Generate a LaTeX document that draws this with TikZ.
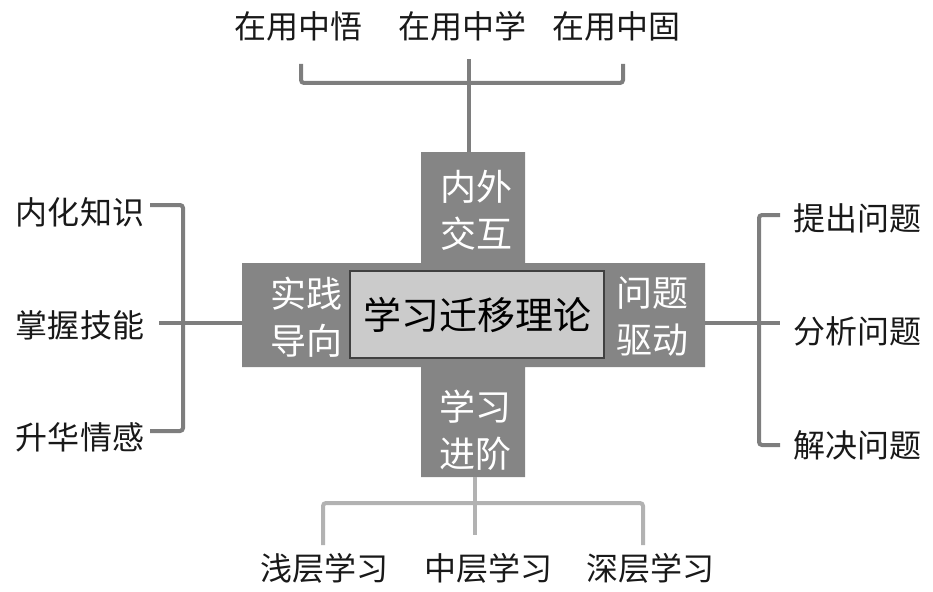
\documentclass[tikz,border=0pt]{standalone}
\usepackage{fontspec}
\setmainfont{Noto Sans CJK SC}
\newfontfamily\cjk{Noto Sans CJK SC}
\definecolor{crossgray}{HTML}{858585}
\definecolor{centergray}{HTML}{CBCBCB}
\definecolor{linegray}{HTML}{7E7E7E}
\definecolor{lightline}{HTML}{B2B2B2}
\begin{document}
\begin{tikzpicture}[x=1pt,y=-1pt,
  outer/.style={inner sep=0pt,font=\cjk\fontsize{32}{34}\selectfont,text=black!90},
  arm/.style={inner sep=0pt,align=center,text=white,font=\cjk\fontsize{36}{47}\selectfont},
  conn/.style={draw=linegray,line width=4pt,rounded corners=3pt},
  lconn/.style={draw=lightline,line width=4pt,rounded corners=3pt}]
\useasboundingbox (0,0) rectangle (933,591);
% cross
\fill[crossgray] (421,152) -- (525,152) -- (525,263) -- (705,263) -- (705,367) -- (525,367) -- (525,477) -- (421,477) -- (421,367) -- (242,367) -- (242,263) -- (421,263) -- cycle;
\node[draw=black!75,line width=1.2pt,fill=centergray,minimum width=254pt,minimum height=87pt,inner sep=0pt,font=\cjk\fontsize{38}{38}\selectfont] (c) at (477,314.5) {学习迁移理论};
% arm texts
\node[arm] (top) at (476,210) {内外\\交互};
\node[arm] (left) at (306,317) {实践\\导向};
\node[arm] (right) at (652,317) {问题\\驱动};
\node[arm] (bot) at (475,430) {学习\\进阶};
% anchor coordinates
\coordinate (topend) at (469,152);
\coordinate (botend) at (475,477);
\coordinate (leftend) at (242,323);
\coordinate (rightend) at (705,323);
% outer labels
\node[outer] (t1) at (298,26) {在用中悟};
\node[outer] (t2) at (462,26) {在用中学};
\node[outer] (t3) at (616,26) {在用中固};
\node[outer] (b1) at (324,568) {浅层学习};
\node[outer] (b2) at (488,568) {中层学习};
\node[outer] (b3) at (650,568) {深层学习};
\node[outer] (l1) at (80,212) {内化知识};
\node[outer] (l2) at (80,325) {掌握技能};
\node[outer] (l3) at (80,437) {升华情感};
\node[outer] (r1) at (857,218) {提出问题};
\node[outer] (r2) at (857,331) {分析问题};
\node[outer] (r3) at (857,445) {解决问题};
% top bracket
\draw[conn] (301,64) -- (301,83) -- (623,83) -- (623,64);
\draw[conn] (topend) -- (469,59);
% bottom bracket
\draw[lconn] (323,545) -- (323,503) -- (643,503) -- (643,545);
\draw[lconn] (botend) -- (475,535);
% left bracket
\draw[conn] (150,205) -- (183,205) -- (183,431) -- (150,431);
\draw[conn] (leftend) -- (159,323);
% right bracket
\draw[conn] (780,215) -- (759,215) -- (759,445) -- (780,445);
\draw[conn] (rightend) -- (780,323);
\end{tikzpicture}
\end{document}
